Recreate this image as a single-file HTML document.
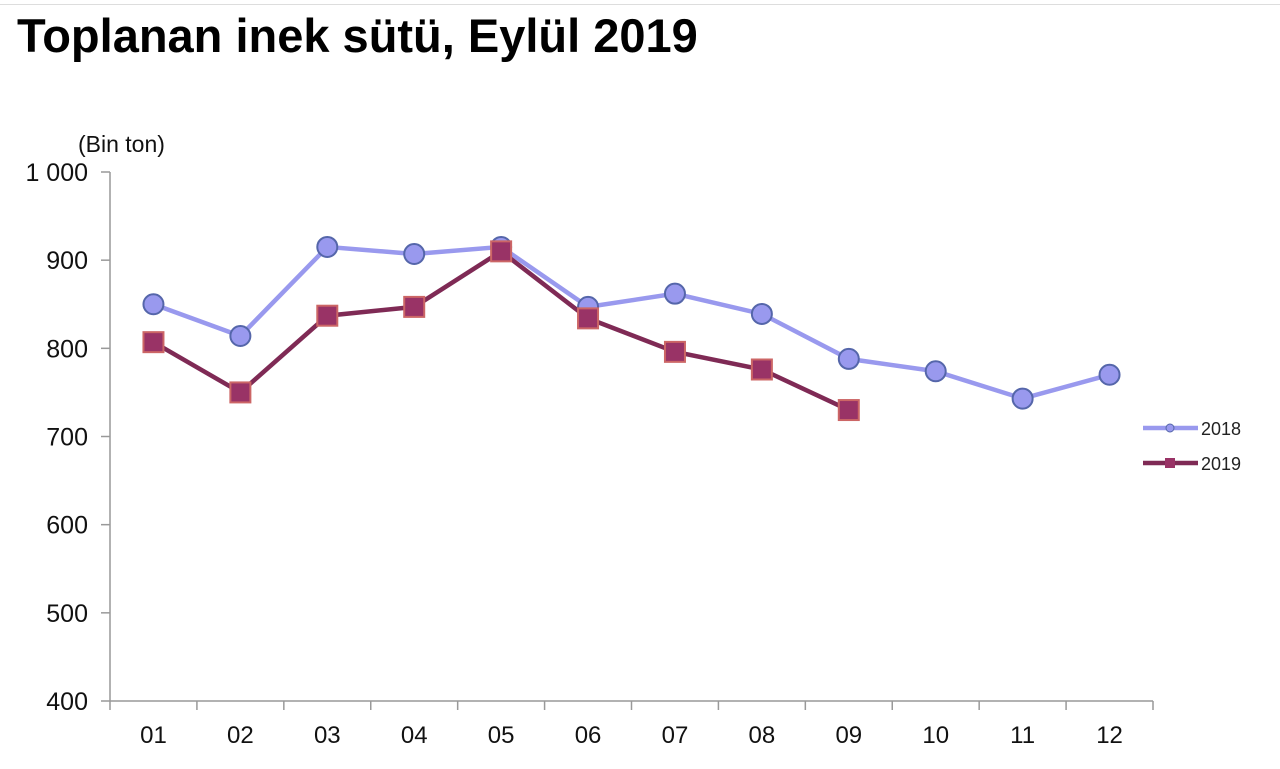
<!DOCTYPE html>
<html><head><meta charset="utf-8"><style>
body{margin:0;background:#fff;width:1280px;height:769px;overflow:hidden;font-family:"Liberation Sans",sans-serif}
h1{position:absolute;left:17px;top:8px;margin:0;font-size:47px;font-weight:bold;color:#000}
svg{position:absolute;left:0;top:0}
</style></head><body>
<div style="position:absolute;left:0;top:4px;width:1280px;height:1px;background:#ddd"></div>
<h1>Toplanan inek sütü, Eylül 2019</h1>
<svg id="c" width="1280" height="769"></svg>
<script>
const categories=["01","02","03","04","05","06","07","08","09","10","11","12"];
const values2018=[850,814,915,907,915,847,862,839,788,774,743,770];
const values2019=[807,750,837,847,910,834,796,776,730];
const yTicks=[400,500,600,700,800,900,1000];
const yTickLabels=["400","500","600","700","800","900","1 000"];
const NS="http://www.w3.org/2000/svg";
const svg=document.getElementById('c');
const x0=110,x1=1153,yTop=172,yBot=701,ymin=400,ymax=1000;
const bw=(x1-x0)/categories.length;
const xs=i=>x0+bw*(i+0.5);
const ys=v=>yBot-(v-ymin)/(ymax-ymin)*(yBot-yTop);
function el(t,a,p){const e=document.createElementNS(NS,t);for(const k in a)e.setAttribute(k,a[k]);(p||svg).appendChild(e);return e;}
const ax=el('g',{});


el('line',{x1:x0,y1:yTop,x2:x0,y2:yBot,stroke:'#999','stroke-width':1.5},ax);
el('line',{x1:x0,y1:yBot,x2:x1,y2:yBot,stroke:'#999','stroke-width':1.5},ax);
yTicks.forEach((v,i)=>{
 el('line',{x1:x0-9,y1:ys(v),x2:x0,y2:ys(v),stroke:'#999','stroke-width':1.5},ax);
 const t=el('text',{x:88,y:ys(v)+9,'text-anchor':'end','font-size':25,fill:'#111'},ax);
 t.textContent=yTickLabels[i];
 
 
});
for(let i=0;i<=categories.length;i++){el('line',{x1:x0+bw*i,y1:yBot,x2:x0+bw*i,y2:yBot+9,stroke:'#999','stroke-width':1.5},ax);}
categories.forEach((c,i)=>{
 const t=el('text',{x:xs(i),y:743,'text-anchor':'middle','font-size':24,fill:'#111'},ax);
 t.textContent=c;
 
 
});
const yt=el('text',{x:78,y:152,'font-size':23,fill:'#111'});
yt.textContent="(Bin ton)";


function series(vals,color,name,sq){
 const g=el('g',{});
 
 
 el('polyline',{points:vals.map((v,i)=>xs(i)+','+ys(v)).join(' '),fill:'none',stroke:color,'stroke-width':4.5},g);
 vals.forEach((v,i)=>{
  let m;
  if(sq)m=el('rect',{x:xs(i)-10,y:ys(v)-10,width:20,height:20,fill:'#993366',stroke:'#cc6666','stroke-width':2},g);
  else m=el('circle',{cx:xs(i),cy:ys(v),r:10,fill:'#9999ee',stroke:'#5566aa','stroke-width':2},g);
  
  
 });
}
series(values2018,'#9999ee','series-2018',false);
series(values2019,'#7f2a55','series-2019',true);
const lg=el('g',{});


el('line',{x1:1143,y1:428,x2:1198,y2:428,stroke:'#9999ee','stroke-width':4.5},lg);
el('circle',{cx:1170,cy:428,r:4,fill:'#9999ee',stroke:'#5566aa'},lg);
const t1=el('text',{x:1201,y:435,'font-size':18,fill:'#222'},lg);t1.textContent="2018";
el('line',{x1:1143,y1:463,x2:1198,y2:463,stroke:'#7f2a55','stroke-width':4.5},lg);
el('rect',{x:1165,y:458,width:10,height:10,fill:'#993366'},lg);
const t2=el('text',{x:1201,y:470,'font-size':18,fill:'#222'},lg);t2.textContent="2019";
</script>
</body></html>
